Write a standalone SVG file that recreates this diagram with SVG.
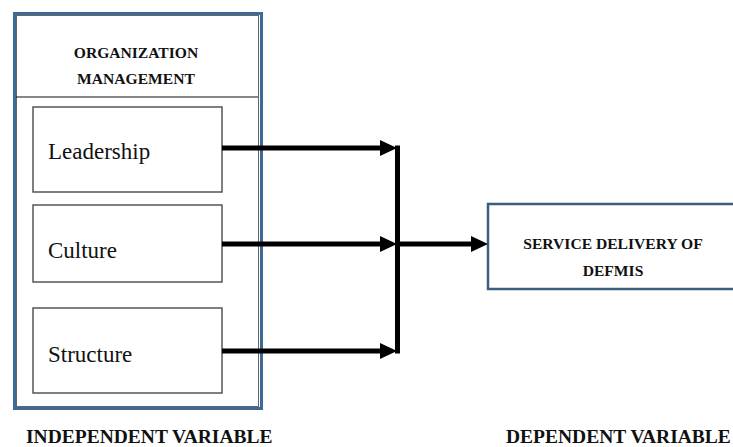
<svg xmlns="http://www.w3.org/2000/svg" width="733" height="447" viewBox="0 0 733 447">
<defs>
<style>
.hdr{font-family:"Liberation Serif","Times New Roman",serif;font-weight:bold;font-size:15.6px;fill:#111;text-anchor:middle}
.lbl{font-family:"Liberation Serif","Times New Roman",serif;font-size:23px;fill:#111}
.var{font-family:"Liberation Serif","Times New Roman",serif;font-weight:bold;font-size:19.5px;fill:#111}
.box{fill:#fff;stroke:#555;stroke-width:1.5}
.conn{stroke:#000;stroke-width:5;fill:none}
</style>
<marker id="ah" markerUnits="userSpaceOnUse" markerWidth="18" markerHeight="18" refX="0" refY="8" orient="auto">
<path d="M0,0 L17,8 L0,16 z" fill="#000"/>
</marker>
</defs>
<rect width="733" height="447" fill="#fff"/>

<g id="org-management">
<rect x="14.5" y="13.5" width="247" height="395" fill="#fff" stroke="#3d6a96" stroke-width="3"/>
<rect x="16.5" y="15.5" width="242" height="391" fill="none" stroke="#666" stroke-width="1"/>
<line x1="16" y1="97" x2="258" y2="97" stroke="#111" stroke-width="1.2"/>
<text class="hdr" x="136" y="58">ORGANIZATION</text>
<text class="hdr" x="136" y="84">MANAGEMENT</text>
</g>

<g id="leadership">
<rect class="box" x="33" y="107" width="189" height="85"/>
<text class="lbl" x="48" y="159">Leadership</text>
</g>

<g id="culture">
<rect class="box" x="33" y="205" width="189" height="77"/>
<text class="lbl" x="48" y="258">Culture</text>
</g>

<g id="structure">
<rect class="box" x="33" y="308" width="189" height="85"/>
<text class="lbl" x="48" y="362">Structure</text>
</g>

<g id="service-delivery">
<rect x="488" y="204" width="260" height="85" fill="#fff" stroke="#3c5d80" stroke-width="2.5"/>
<text class="hdr" x="613" y="249">SERVICE DELIVERY OF</text>
<text class="hdr" x="613" y="276">DEFMIS</text>
</g>

<g id="connectors">
<line class="conn" x1="222" y1="148" x2="380" y2="148" marker-end="url(#ah)"/>
<line class="conn" x1="222" y1="244" x2="380" y2="244" marker-end="url(#ah)"/>
<line class="conn" x1="222" y1="351" x2="380" y2="351" marker-end="url(#ah)"/>
<line class="conn" x1="397.5" y1="145.5" x2="397.5" y2="353.5"/>
<line class="conn" x1="397" y1="244" x2="471" y2="244" marker-end="url(#ah)"/>
</g>

<g id="labels">
<text class="var" x="26" y="442.5">INDEPENDENT VARIABLE</text>
<text class="var" x="506" y="442.5">DEPENDENT VARIABLE</text>
</g>
</svg>
